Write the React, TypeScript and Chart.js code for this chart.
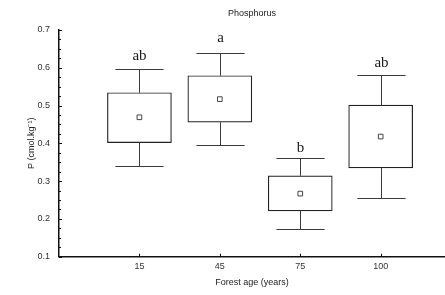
import React, { useEffect, useRef } from 'react';
import { Chart, registerables } from 'chart.js';

Chart.register(...registerables);

const categories = ['15', '45', '75', '100'];
const positions = [1, 2, 3, 4];
const q1 = [0.402, 0.456, 0.221, 0.335];
const q3 = [0.534, 0.579, 0.314, 0.501];
const lowerWhisker = [0.340, 0.396, 0.174, 0.255];
const upperWhisker = [0.596, 0.638, 0.361, 0.580];
const means = [0.469, 0.517, 0.267, 0.418];
const letters = ['ab', 'a', 'b', 'ab'];
const letterValues = [0.621, 0.669, 0.378, 0.603];
const yTicks = [0.1, 0.2, 0.3, 0.4, 0.5, 0.6, 0.7];
const minorStep = 0.025;
const titleText = 'Phosphorus';
const xTitle = 'Forest age (years)';
const yTitle = 'P (cmol.kg\u207B\u00B9)';

const SANS = '"Liberation Sans", Arial, sans-serif';
const SERIF = '"Liberation Serif", "Times New Roman", serif';

const boxPlugin = {
  id: 'boxExtras',
  afterDatasetsDraw(chart: any) {
    const ctx = chart.ctx;
    const xs = chart.scales.x;
    const ys = chart.scales.y;
    const area = chart.chartArea;
    ctx.save();
    const capHalf = (xs.getPixelForValue(1.3) - xs.getPixelForValue(1));
    ctx.strokeStyle = '#3a3a3a';
    ctx.lineWidth = 1;
    for (let i = 0; i < positions.length; i++) {
      const px = Math.round(xs.getPixelForValue(positions[i])) + 0.5;
      const yU = Math.round(ys.getPixelForValue(upperWhisker[i])) + 0.5;
      const yQ3 = ys.getPixelForValue(q3[i]);
      const yQ1 = ys.getPixelForValue(q1[i]);
      const yL = Math.round(ys.getPixelForValue(lowerWhisker[i])) + 0.5;
      ctx.beginPath();
      ctx.moveTo(px, yU);
      ctx.lineTo(px, yQ3);
      ctx.moveTo(px, yQ1);
      ctx.lineTo(px, yL);
      ctx.moveTo(px - capHalf, yU);
      ctx.lineTo(px + capHalf, yU);
      ctx.moveTo(px - capHalf, yL);
      ctx.lineTo(px + capHalf, yL);
      ctx.stroke();
      ctx.fillStyle = '#1a1a1a';
      ctx.font = '15px ' + SERIF;
      ctx.textAlign = 'center';
      ctx.textBaseline = 'alphabetic';
      ctx.fillText(letters[i], px, ys.getPixelForValue(letterValues[i]));
    }
    ctx.strokeStyle = '#111';
    ctx.lineWidth = 1;
    ctx.beginPath();
    for (let v = 0.1; v <= 0.7 + 1e-9; v += minorStep) {
      const py = Math.round(ys.getPixelForValue(v)) + 0.5;
      const isMajor = yTicks.some((t) => Math.abs(t - v) < 1e-6);
      ctx.moveTo(area.left, py);
      ctx.lineTo(area.left + (isMajor ? 3 : 2), py);
    }
    for (let i = 0; i < positions.length; i++) {
      const px = Math.round(xs.getPixelForValue(positions[i])) + 0.5;
      ctx.moveTo(px, area.bottom);
      ctx.lineTo(px, area.bottom - 3);
    }
    ctx.stroke();
    ctx.fillStyle = '#222';
    ctx.font = '9px ' + SANS;
    ctx.textAlign = 'center';
    ctx.textBaseline = 'middle';
    ctx.fillText(titleText, (area.left + area.right) / 2, 14);
    ctx.restore();
  },
};

export default function App() {
  const ref = useRef<HTMLCanvasElement>(null);
  useEffect(() => {
    if (!ref.current) return;
    Chart.defaults.font.family = SANS;
    const chart = new Chart(ref.current, {
      type: 'bar',
      data: {
        datasets: [
          {
            type: 'scatter',
            label: 'Mean',
            data: positions.map((p, i) => ({ x: p, y: means[i] })),
            pointStyle: 'rect',
            pointRadius: 3.3,
            pointBackgroundColor: '#fff',
            pointBorderColor: '#444',
            pointBorderWidth: 1,
            order: 1,
          } as any,
          {
            type: 'bar',
            label: 'Box',
            data: positions.map((p, i) => ({ x: p, y: [q1[i], q3[i]] })) as any,
            backgroundColor: '#fff',
            borderColor: '#222',
            borderWidth: 1.2,
            borderSkipped: false,
            barThickness: 64,
            order: 2,
          } as any,
        ],
      },
      options: {
        responsive: false,
        animation: false,
        layout: { autoPadding: false, padding: { top: 30, right: 0, left: 0, bottom: 0 } },
        plugins: {
          legend: { display: false },
          tooltip: { enabled: false },
          title: { display: false },
        },
        scales: {
          x: {
            type: 'linear',
            offset: false,
            min: 0,
            max: 4.8,
            grid: { display: true, offset: false, drawOnChartArea: false, drawTicks: false },
            border: { display: true, color: '#111', width: 1.5 },
            ticks: {
              stepSize: 1,
              includeBounds: false,
              padding: 4,
              color: '#333',
              font: { size: 9, family: SANS },
              maxRotation: 0,
              autoSkip: false,
              callback: (v: any) => {
                const idx = positions.indexOf(Number(v));
                return idx >= 0 ? categories[idx] : '';
              },
            },
            title: {
              display: true,
              text: xTitle,
              color: '#222',
              font: { size: 9, family: SANS },
              padding: { top: 7, bottom: 7 },
            },
            afterFit: (scale: any) => {
              scale.height = 38.3;
              scale.paddingLeft = 0;
              scale.paddingRight = 0;
            },
          },
          y: {
            type: 'linear',
            min: 0.1,
            max: 0.7,
            grid: { display: true, drawOnChartArea: false, drawTicks: false },
            border: { display: true, color: '#111', width: 1.5 },
            ticks: {
              stepSize: 0.1,
              padding: 9,
              color: '#333',
              font: { size: 9, family: SANS },
              callback: (v: any) => Number(v).toFixed(1),
            },
            title: {
              display: true,
              text: yTitle,
              color: '#222',
              font: { size: 9, family: SANS },
              padding: { top: 26, bottom: 0 },
            },
            afterFit: (scale: any) => {
              scale.width = 59;
            },
          },
        },
      } as any,
      plugins: [boxPlugin],
    });
    return () => chart.destroy();
  }, []);
  return (
    <div style={{ position: 'absolute', left: 0, top: 0, width: 445, height: 295, background: '#fff' }}>
      <canvas ref={ref} width={445} height={295} />
    </div>
  );
}
